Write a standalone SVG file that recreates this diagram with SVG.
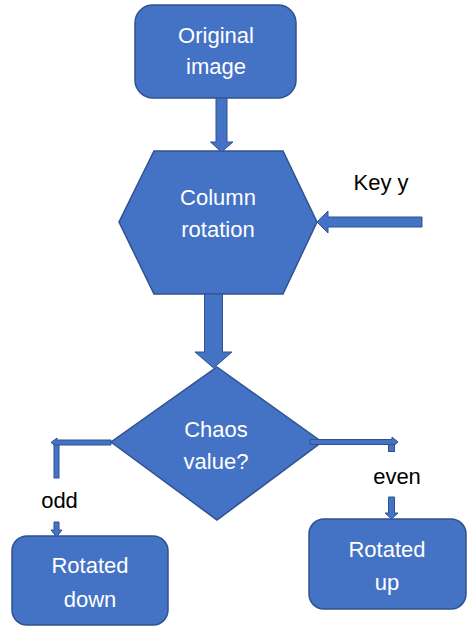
<svg xmlns="http://www.w3.org/2000/svg" width="467" height="626" viewBox="0 0 467 626">
<style>
.shape{fill:#4472C4;stroke:#2F528F;stroke-width:1.5}
.conn{fill:#4472C4;stroke:#2F528F;stroke-width:1}
.lbl{font-family:"Liberation Sans",Arial,sans-serif;font-size:22px;fill:#FFFFFF;text-anchor:middle}
.etxt{font-family:"Liberation Sans",Arial,sans-serif;font-size:22px;fill:#000000;text-anchor:middle}
</style>
<rect width="467" height="626" fill="#FFFFFF"/>
<g id="original">
<rect class="shape" x="135" y="5" width="161" height="93" rx="18"/>
<text class="lbl" x="216" y="43">Original</text>
<text class="lbl" x="216" y="74">image</text>
</g>
<g id="column-rotation">
<polygon class="shape" points="154,151 283,151 317,222 283,294 154,294 119,222"/>
<text class="lbl" x="218" y="205">Column</text>
<text class="lbl" x="218" y="237">rotation</text>
</g>
<g id="key">
<text class="etxt" x="381" y="190">Key y</text>
</g>
<g id="chaos">
<polygon class="shape" points="217,367 322,442 217,520 111,442"/>
<text class="lbl" x="216" y="437">Chaos</text>
<text class="lbl" x="216" y="469">value?</text>
</g>
<g id="odd-label">
<text class="etxt" x="59.5" y="508">odd</text>
</g>
<g id="even-label">
<text class="etxt" x="397" y="484">even</text>
</g>
<g id="rotated-down">
<rect class="shape" x="12" y="536" width="156" height="89" rx="15"/>
<text class="lbl" x="90" y="573">Rotated</text>
<text class="lbl" x="90" y="607">down</text>
</g>
<g id="rotated-up">
<rect class="shape" x="309" y="519" width="157" height="90" rx="15"/>
<text class="lbl" x="387" y="557">Rotated</text>
<text class="lbl" x="387" y="590">up</text>
</g>
<g id="connectors">
<polygon class="conn" points="216,98 227,98 227,142 233,142 221.5,152 210.5,142 216,142"/>
<polygon class="conn" points="422,217 422,227 328,227 328,233 317,222 328,211 328,217"/>
<polygon class="conn" points="204.5,294 222.5,294 222.5,352 232,352 213.5,368 195,352 204.5,352"/>
<polygon class="conn" points="111,440 111,445 57,445 57,447 51,442.5 57,438 57,440"/>
<rect class="conn" x="54" y="445" width="5" height="33"/>
<polygon class="conn" points="54,522 59,522 59,530 62,530 56.5,537 51,530 54,530"/>
<polygon class="conn" points="310,439.5 392,439.5 392,437 398,442 392,447 392,444.5 310,444.5"/>
<rect class="conn" x="388.5" y="444.5" width="6" height="7"/>
<polygon class="conn" points="388.5,497 394.5,497 394.5,513 398,513 391.5,519 385,513 388.5,513"/>
</g>
</svg>
